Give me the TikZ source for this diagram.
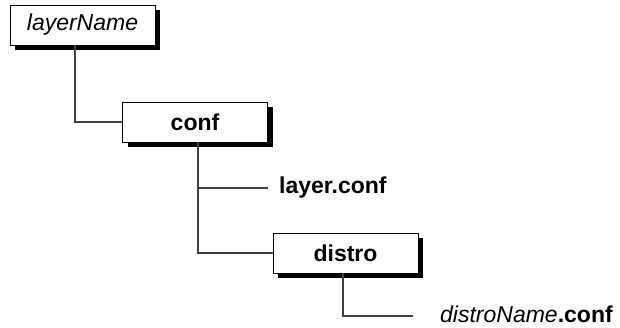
\documentclass[tikz,border=0pt]{standalone}
\usepackage{fontspec}
\setmainfont{Liberation Sans}
\usetikzlibrary{shadows}
\begin{document}
\begin{tikzpicture}[x=1pt,y=-1pt,
  box/.style={draw=black, line width=0.8pt, fill=white, minimum width=145pt,
    minimum height=40pt, inner sep=0pt, font=\fontsize{23}{27}\selectfont,
    drop shadow={shadow xshift=5pt, shadow yshift=-5pt, opacity=1, fill=black}},
  lbl/.style={inner sep=0pt, anchor=west, font=\fontsize{23}{27}\selectfont},
  conn/.style={draw=black!75, line width=1.1pt}]
\useasboundingbox (0,0) rectangle (620,327);
\node[box] (lname) at (82.5,25) {\itshape layerName};
\node[box] (conf) at (195,122) {\bfseries conf};
\node[box] (distro) at (345.5,253) {\bfseries distro};
\node[lbl] (lc) at (279,188) {\bfseries layer.conf};
\node[lbl] (dn) at (440,314) {{\itshape distroName}\textbf{.conf}};
\coordinate (v1) at (75,0);
\coordinate (v2) at (198,0);
\coordinate (v3) at (343,0);
\coordinate (e1) at (268,188);
\coordinate (e2) at (413,316);
\draw[conn] (lname.south -| v1) |- (conf.west);
\draw[conn] (conf.south -| v2) |- (e1);
\draw[conn] (conf.south -| v2) |- (distro.west);
\draw[conn] (distro.south -| v3) |- (e2);
\end{tikzpicture}
\end{document}
